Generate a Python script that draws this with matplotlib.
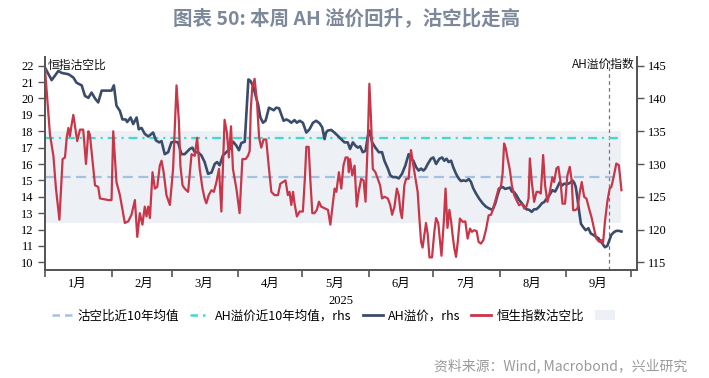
import matplotlib
matplotlib.use("Agg")
import matplotlib.pyplot as plt
import matplotlib.dates as mdates
from matplotlib.lines import Line2D
from matplotlib.patches import Patch
import pandas as pd
import numpy as np

# ---------------- data ----------------
base_date = "2025-01-01"
# days after 2025-01-01 and short-selling ratio (%, lhs)
red_days = [0.0, 2.3, 3.9, 5.1, 6.7, 8.2, 9.3, 10.1, 10.9, 11.6, 12.4, 13.2, 14.0, 15.0, 16.3, 17.8,
            19.1, 20.2, 20.9, 22.5, 23.3, 24.8, 25.6, 29.5, 31.0, 31.8, 33.3, 34.9, 37.2, 38.8, 40.3,
            41.9, 43.0, 44.2, 45.4, 46.5, 47.3, 48.1, 48.9, 50.1, 51.2, 52.3, 53.5, 54.3, 55.3, 56.6,
            58.2, 59.7, 61.3, 62.4, 63.1, 64.1, 65.1, 66.7, 68.3, 69.8, 70.9, 72.1, 73.4, 74.4, 75.2,
            76.3, 77.6, 78.7, 79.9, 81.1, 82.2, 83.7, 84.8, 85.7, 86.7, 87.6, 89.2, 90.7, 92.0, 93.5,
            94.6, 95.4, 95.9, 96.6, 97.7, 98.8, 99.8, 100.8, 101.9, 103.1, 104.4, 105.5, 107.0, 108.6,
            109.7, 110.9, 112.1, 113.2, 114.0, 114.8, 115.6, 116.3, 117.4, 118.7, 120.2, 121.2, 121.8,
            122.9, 123.6, 124.6, 125.6, 126.7, 127.7, 128.7, 130.3, 131.9, 133.0, 133.9, 135.0, 135.8,
            137.0, 138.1, 139.1, 140.1, 141.1, 141.6, 142.2, 143.2, 144.3, 145.3, 146.2, 147.4, 148.5,
            149.4, 150.5, 151.2, 152.0, 152.8, 154.0, 155.1, 156.2, 157.1, 158.2, 159.8, 160.9, 161.8,
            162.9, 164.0, 164.9, 165.7, 166.4, 167.5, 168.3, 169.5, 170.6, 171.7, 172.7, 173.7, 174.5,
            175.3, 176.0, 176.8, 177.6, 178.4, 179.2, 180.4, 181.5, 182.3, 183.3, 184.8, 185.9, 186.7,
            187.6, 188.5, 189.3, 190.0, 190.8, 191.6, 192.4, 193.4, 194.7, 195.9, 197.0, 198.1, 199.0,
            200.1, 201.2, 202.1, 203.2, 204.3, 205.5, 206.8, 207.9, 208.9, 210.2, 211.4, 212.5, 213.3,
            214.0, 214.8, 215.6, 216.7, 217.6, 218.7, 219.8, 221.0, 222.3, 223.4, 224.4, 225.4, 226.0,
            226.9, 228.0, 229.1, 230.0, 231.1, 232.2, 233.1, 234.2, 235.3, 236.5, 237.3, 238.4, 239.3,
            240.4, 241.2, 242.4, 243.5, 244.6, 245.5, 246.2, 247.1, 248.2, 249.3, 250.2, 251.3, 252.4,
            253.6, 254.9, 255.9, 257.0, 258.3, 259.5, 260.1, 261.0, 262.1, 263.2, 264.0, 265.2, 266.3,
            267.5, 268.7]
red_vals = [21.8, 17.8, 16.5, 14.5, 12.6, 16.3, 16.4, 17.6, 18.2, 17.7, 18.4, 19.0, 18.3, 17.4, 18.1, 18.1,
            16.0, 18.0, 17.8, 15.7, 14.7, 14.6, 13.9, 13.8, 13.8, 18.0, 14.9, 14.1, 12.4, 12.5, 12.9,
            13.8, 11.55, 13.0, 12.3, 13.4, 12.8, 13.4, 12.7, 15.5, 14.5, 14.6, 15.9, 16.2, 15.5, 14.1,
            13.5, 15.7, 20.8, 18.6, 15.9, 14.7, 14.5, 14.3, 16.6, 16.5, 17.6, 15.7, 14.5, 13.9, 13.6,
            14.1, 14.4, 14.3, 14.9, 15.7, 13.1, 18.7, 17.9, 16.4, 18.3, 15.7, 14.5, 13.0, 16.3, 16.3,
            16.5, 16.8, 19.3, 20.7, 21.2, 19.8, 17.6, 17.0, 17.5, 17.5, 15.7, 14.3, 14.1, 14.1,
            14.8, 14.9, 15.0, 14.1, 14.3, 13.5, 14.3, 13.6, 12.8, 13.1, 13.1, 15.3, 17.05,
            17.05, 15.2, 13.0, 13.0, 13.2, 13.7, 13.4, 13.3, 13.2, 12.3, 13.3, 14.5, 14.3,
            15.5, 14.5, 15.9, 16.4, 16.4, 15.5, 16.3, 15.3, 15.9, 13.4, 14.3, 15.1, 15.0,
            13.7, 17.6, 20.9, 18.6, 15.7, 15.5, 15.1, 14.7, 13.9, 14.0, 13.9, 13.5, 12.9,
            13.4, 14.5, 14.1, 13.1, 12.7, 14.7, 15.1, 15.1, 16.85, 15.9, 15.1, 14.3, 12.7,
            11.25, 10.9, 11.65, 12.4, 11.7, 10.3, 10.3, 11.9, 12.7, 12.4, 10.4, 12.5, 14.5,
            12.1, 13.2, 12.5, 11.65, 10.84, 10.33, 11.25, 12.67, 12.47, 12.5, 11.45, 12.06, 11.86,
            11.96, 11.9, 11.25, 11.14, 11.35, 11.96, 12.87, 12.9, 13.28, 13.89, 14.5, 14.6, 15.42,
            17.25, 16.95, 16.34, 15.63, 14.7, 14.1, 13.79, 13.48, 13.58, 13.28, 13.4, 13.89, 16.34,
            14.9, 13.69, 14.3, 14.3, 14.2, 16.55, 14.7, 13.69, 14.3, 15.2, 14.9, 15.73, 15.83,
            14.8, 13.58, 13.58, 15.3, 15.83, 15.0, 13.18, 13.18, 13.28, 14.3, 14.9, 14.0, 13.89,
            13.28, 12.67, 12.06, 11.45, 11.25, 11.35, 11.14, 12.47, 13.69, 14.5, 14.6, 15.3, 16.03,
            15.93, 14.4]

# AH premium index (rhs)
ah_days = [0.0, 3.1, 6.2, 7.8, 10.9, 13.2, 14.7, 17.1, 18.6, 20.2, 21.7, 23.3, 24.8, 26.4, 29.5, 31.0,
           32.1, 33.3, 34.9, 36.1, 37.6, 38.3, 39.9, 41.1, 42.7, 43.7, 45.0, 46.5, 48.1, 48.9, 50.4,
           51.7, 53.2, 54.3, 55.8, 57.4, 58.9, 60.5, 62.0, 63.6, 65.1, 67.5, 68.7, 69.8, 71.3, 72.9,
           74.4, 76.0, 77.6, 79.1, 80.2, 81.4, 82.9, 84.5, 86.1, 87.7, 89.2, 90.4, 91.5, 93.1, 94.2,
           94.8, 95.7, 97.0, 98.2, 99.3, 100.4, 101.6, 102.8, 104.4, 105.5, 106.6, 107.8, 109.1, 110.1,
           111.2, 112.5, 113.7, 114.8, 116.3, 117.4, 118.7, 120.2, 121.8, 123.3, 124.9, 126.4, 128.0,
           129.2, 130.3, 131.0, 131.8, 133.4, 134.9, 136.5, 138.0, 139.6, 141.1, 142.2, 143.5, 144.7,
           145.8, 146.9, 148.1, 149.4, 150.5, 151.2, 152.5, 154.0, 155.6, 157.1, 158.2, 159.8, 160.9,
           162.1, 163.6, 164.9, 166.4, 168.0, 169.5, 170.6, 171.7, 173.0, 174.2, 175.3, 176.4, 177.3,
           178.4, 179.9, 181.0, 182.3, 183.8, 185.1, 186.1, 187.2, 188.1, 189.3, 190.3, 191.6, 192.8,
           193.9, 195.0, 196.3, 197.5, 198.5, 199.6, 200.9, 202.4, 204.0, 205.5, 207.1, 208.6, 209.9,
           210.9, 212.0, 213.3, 214.5, 215.6, 216.7, 217.6, 218.7, 219.8, 221.0, 222.3, 223.4, 224.4,
           225.7, 226.9, 228.0, 229.1, 230.4, 231.6, 232.7, 233.8, 235.0, 236.5, 237.8, 238.9, 239.9,
           240.9, 242.0, 243.1, 243.9, 245.1, 245.8, 246.6, 247.4, 248.2, 249.0, 249.8, 250.8, 252.0,
           253.3, 254.4, 255.5, 256.7, 257.9, 259.0, 260.1, 261.0, 262.1, 263.2, 264.0, 265.2, 266.3,
           267.5, 268.7]
ah_vals = [144.7, 142.8, 144.2, 143.9, 143.7, 143.2, 142.4, 142.0, 140.4, 140.1, 140.9, 140.0, 139.4, 141.2, 141.2, 141.2,
           142.0, 138.9, 138.1, 136.8, 136.8, 136.4, 137.1, 136.1, 137.1, 135.3, 135.5, 134.6, 134.2, 134.4, 134.8,
           133.6, 133.3, 133.5, 131.5, 131.8, 133.3, 133.4, 133.3, 131.5, 131.5, 132.3, 132.5, 131.8, 131.8, 131.3,
           130.3, 128.5, 128.7, 130.0, 130.3, 129.8, 131.3, 131.8, 132.3, 133.4, 132.8, 132.1, 133.2, 133.4, 139.4,
           142.9, 142.7, 141.9, 140.4, 139.1, 137.1, 136.3, 136.6, 138.6, 138.4, 138.2, 138.6, 138.5, 137.6,
           136.6, 136.8, 136.6, 136.3, 136.7, 136.3, 136.6, 136.3, 134.8, 135.3, 136.3, 136.6, 136.2,
           135.6, 133.8, 134.8, 135.1, 135.2, 134.8, 134.3, 133.8, 133.3, 133.3, 132.3, 133.3, 132.8,
           132.5, 132.7, 131.8, 132.0, 134.3, 135.1, 133.3, 132.5, 131.8, 131.8, 130.5, 129.3, 128.3,
           128.0, 128.0, 127.8, 128.5, 129.8, 131.5, 130.8, 130.5, 129.5, 129.0, 129.3, 129.0, 129.3,
           130.0, 130.8, 131.0, 130.0, 130.8, 131.0, 130.5, 130.8, 130.3, 130.5, 129.5, 128.5, 127.8,
           127.4, 127.5, 127.4, 127.7, 127.3, 126.3, 125.5, 124.7, 124.0, 123.5, 123.2, 123.0, 124.0,
           125.2, 126.3, 126.5, 126.2, 126.3, 126.4, 125.8, 125.7, 125.2, 124.5, 124.0, 123.5, 123.1,
           123.0, 122.7, 123.1, 123.1, 123.5, 124.0, 124.2, 124.7, 125.2, 126.0, 125.8, 126.5, 127.2,
           126.7, 127.0, 126.9, 127.0, 127.2, 127.5, 127.2, 126.5, 124.7, 122.7, 120.9, 120.4, 119.9,
           120.2, 119.4, 119.2, 118.9, 118.7, 118.2, 117.7, 117.3, 117.5, 118.5, 119.2, 119.6, 119.8,
           119.8, 119.7]

short_ratio_10y_avg = 15.2      # lhs
ah_premium_10y_avg = 134.0      # rhs
short_band = (12.4, 18.0)       # lhs, shaded band
week_marker_day = 263           # vertical dashed line (days after base_date)

month_labels = ["1月", "2月", "3月", "4月", "5月", "6月", "7月", "8月", "9月"]
year_label = "2025"

# ---------------- styling ----------------
CJK = "Noto Sans CJK SC"
SERIF = ["Liberation Serif", CJK]
RED = "#c8364a"
NAVY = "#3b4c6b"
TEAL = "#3fdccb"
LBLUE = "#a6c1de"
BAND = "#edf1f6"
AXC = "#555555"

plt.rcParams["font.family"] = [CJK, "DejaVu Sans"]

fig = plt.figure(figsize=(7.09, 3.78), dpi=100)
ax = fig.add_axes([0.0635, 0.2857, 0.8345, 0.5643])
ax2 = ax.twinx()

base = pd.Timestamp(base_date)
to_dates = lambda d: base + pd.to_timedelta(np.asarray(d, dtype=float), unit="D")
red_x = to_dates(red_days)
ah_x = to_dates(ah_days)
x0, x1 = red_x[0], red_x[-1]

# left axis limits; right axis mapped linearly (10->115, 22->145)
lmin, lmax = 9.53, 22.55
ax.set_ylim(lmin, lmax)
ax2.set_ylim(115 + (lmin - 10) * 2.5, 115 + (lmax - 10) * 2.5)
ax.set_xlim(base, base + pd.Timedelta(days=275.8))

# ax (lhs, red) is drawn above ax2 (rhs); the band/reference lines live in ax2's layer
ax.set_zorder(ax2.get_zorder() + 1)
ax.patch.set_visible(False)

ax2.fill_between([x0, x1], short_band[0], short_band[1], color=BAND, lw=0, zorder=0,
                 transform=ax.transData)
ax2.plot([x0, x1], [short_ratio_10y_avg] * 2, color=LBLUE, lw=1.6, dashes=(4.5, 2.5), zorder=2,
         transform=ax.transData)
ax2.plot([x0, x1], [ah_premium_10y_avg] * 2, color=TEAL, lw=1.6, dashes=(4, 2.2, 1, 2.2), zorder=2)
ax2.axvline(base + pd.Timedelta(days=week_marker_day), color="#777777", lw=0.9, dashes=(3, 2.5), zorder=1)

ax2.plot(ah_x, ah_vals, color=NAVY, lw=1.9, zorder=3, solid_joinstyle="round")
ax.plot(red_x, red_vals, color=RED, lw=1.6, zorder=4, solid_joinstyle="round")

ax.set_ylim(lmin, lmax)
ax2.set_ylim(115 + (lmin - 10) * 2.5, 115 + (lmax - 10) * 2.5)
ax.set_xlim(base, base + pd.Timedelta(days=275.8))

# x ticks: major at month start, labels at mid-month
ax.xaxis.set_major_locator(mdates.MonthLocator())
ax.xaxis.set_major_formatter(plt.NullFormatter())
mids = [pd.Timestamp(2025, m, 16) for m in range(1, 10)]
ax.set_xticks(mids, minor=True)
ax.set_xticklabels(month_labels, minor=True, fontfamily=SERIF, fontsize=9)
ax.tick_params(axis="x", which="minor", length=0, pad=6)
ax.tick_params(axis="x", which="major", length=5, width=1.2, color=AXC, direction="out")
ax.set_xlabel(year_label, fontfamily=SERIF, fontsize=9, labelpad=3)

ax.set_yticks(range(10, 23))
ax.set_yticklabels([str(v) for v in range(10, 23)], fontfamily=SERIF, fontsize=9)
ax2.set_yticks(range(115, 146, 5))
ax2.set_yticklabels([str(v) for v in range(115, 146, 5)], fontfamily=SERIF, fontsize=9)
ax.tick_params(axis="y", length=5, width=1, color=AXC, pad=3)
ax2.tick_params(axis="y", length=5, width=1, color=AXC, pad=3)

for a in (ax, ax2):
    a.spines["top"].set_visible(False)
    for s in ("left", "right", "bottom"):
        a.spines[s].set_color(AXC)
        a.spines[s].set_linewidth(1.3)

ax.text(0.004, 0.962, "恒指沽空比", transform=ax.transAxes, ha="left", va="center",
        fontsize=8.5, color="#111111", zorder=6)
ax.text(0.997, 0.962, "AH溢价指数", transform=ax.transAxes, ha="right", va="center",
        fontsize=8.5, color="#111111", zorder=6)

fig.text(0.489, 0.953, "图表 50: 本周 AH 溢价回升，沽空比走高", ha="center", va="center",
         fontsize=14, fontweight="bold", color="#7d889b")
fig.text(0.969, 0.033, "资料来源：Wind, Macrobond，兴业研究", ha="right", va="center",
         fontsize=10, color="#9a9a9a")

handles = [
    Line2D([], [], color=LBLUE, lw=1.8, dashes=(3, 2)),
    Line2D([], [], color=TEAL, lw=1.8, dashes=(3, 2, 1, 2)),
    Line2D([], [], color=NAVY, lw=2.0),
    Line2D([], [], color=RED, lw=2.0),
    Patch(facecolor=BAND, edgecolor="none"),
]
labels = ["沽空比近10年均值", "AH溢价近10年均值，rhs", "AH溢价，rhs", "恒生指数沽空比", ""]
fig.legend(handles, labels, loc="center", bbox_to_anchor=(0.474, 0.164), ncol=5, frameon=False,
           fontsize=9, handlelength=1.6, handletextpad=0.4, columnspacing=0.9,
           handleheight=0.8)

fig.savefig("out.png", dpi=100)
